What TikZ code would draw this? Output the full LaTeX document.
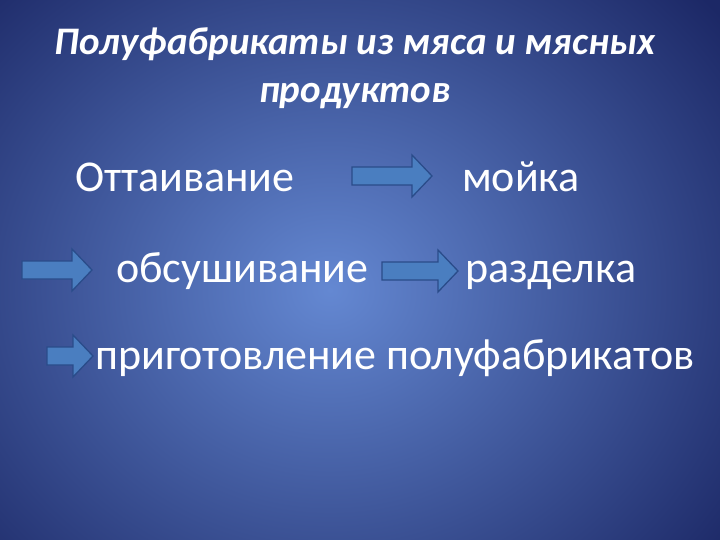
\documentclass[tikz,border=0pt]{standalone}
\usepackage{fontspec}
\setmainfont{Carlito}
\definecolor{bgin}{HTML}{6488D2}
\definecolor{bgout}{HTML}{1C2866}
\definecolor{arrfill}{HTML}{4A7EC0}
\definecolor{arrline}{HTML}{2A4C8A}
\begin{document}
\begin{tikzpicture}[x=1pt,y=-1pt,
  txt/.style={text=white,inner sep=0pt,font=\fontsize{44}{48}\selectfont,anchor=base west},
  arrsty/.style={draw=arrline,line width=1.3pt,fill=arrfill,line join=miter},
  blockarrow/.pic={\draw[arrsty] (-#1/2,-9) -- (#1/2-20,-9) -- (#1/2-20,-21) -- (#1/2,0) -- (#1/2-20,21) -- (#1/2-20,9) -- (-#1/2,9) -- cycle;}]
\useasboundingbox (0,0) rectangle (720,540);
\shade[inner color=bgin,outer color=bgout] (-170,-150) rectangle (830,730);
\node[text=white,font=\fontsize{39}{48}\bfseries\itshape\selectfont,align=center] (title) at (355,68) {Полуфабрикаты из мяса и мясных\\продуктов};
\node[txt] (t1) at (75,192) {Оттаивание};
\node[txt] (t2) at (462,192) {мойка};
\node[txt] (t3) at (116,282) {обсушивание};
\node[txt] (t4) at (465,282) {разделка};
\node[txt] (t5) at (95,369) {приготовление полуфабрикатов};
\pic (a1) at (392,176) {blockarrow=80};
\pic (a2) at (57,270) {blockarrow=70};
\pic (a3) at (420,271) {blockarrow=76};
\pic (a4) at (70,356) {blockarrow=46};
\end{tikzpicture}
\end{document}
